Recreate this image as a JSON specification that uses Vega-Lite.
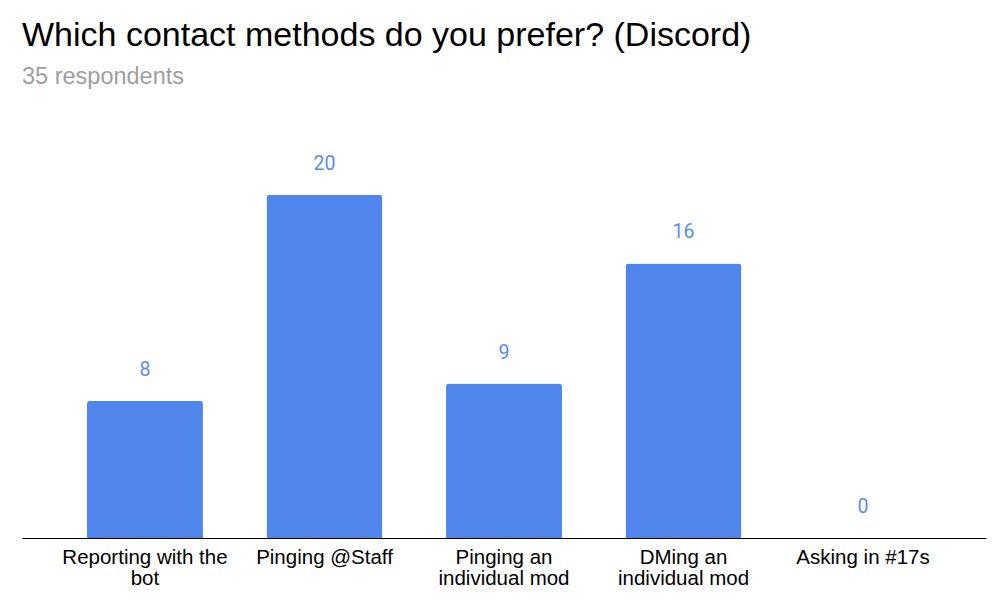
{
  "$schema": "https://vega.github.io/schema/vega-lite/v6.json",
  "autosize": "none",
  "padding": {"left": 22, "top": 109, "right": 14, "bottom": 64},
  "width": 964,
  "height": 429,
  "title": {
    "text": "Which contact methods do you prefer? (Discord)",
    "subtitle": "35 respondents",
    "anchor": "start",
    "frame": "group",
    "font": "Liberation Sans",
    "fontSize": 34,
    "fontWeight": "normal",
    "color": "#000000",
    "subtitleFont": "Liberation Sans",
    "subtitleFontSize": 23.5,
    "subtitleColor": "#9e9e9e",
    "subtitlePadding": 12,
    "offset": 21
  },
  "data": {
    "values": [
      {"method": "Reporting with the bot", "count": 8},
      {"method": "Pinging @Staff", "count": 20},
      {"method": "Pinging an individual mod", "count": 9},
      {"method": "DMing an individual mod", "count": 16},
      {"method": "Asking in #17s", "count": 0}
    ]
  },
  "encoding": {
    "x": {
      "field": "method",
      "type": "nominal",
      "sort": null,
      "scale": {"paddingInner": 0.354, "paddingOuter": 0.362},
      "axis": {
        "title": null,
        "labelAngle": 0,
        "ticks": false,
        "domainColor": "#000000",
        "domainWidth": 1,
        "labelFont": "Liberation Sans",
        "labelFontSize": 20.5,
        "labelColor": "#000000",
        "labelLineHeight": 21,
        "labelPadding": 9,
        "labelExpr": "datum.label == 'Reporting with the bot' ? ['Reporting with the', 'bot'] : datum.label == 'Pinging an individual mod' ? ['Pinging an', 'individual mod'] : datum.label == 'DMing an individual mod' ? ['DMing an', 'individual mod'] : datum.label"
      }
    },
    "y": {
      "field": "count",
      "type": "quantitative",
      "scale": {"domain": [0, 25], "nice": false},
      "axis": null
    }
  },
  "layer": [
    {
      "mark": {"type": "bar", "color": "#5085ec", "cornerRadiusTopLeft": 3, "cornerRadiusTopRight": 3}
    },
    {
      "mark": {"type": "text", "color": "#5b8cee", "font": "Roboto", "fontSize": 19.5, "baseline": "middle", "dy": -31},
      "encoding": {"text": {"field": "count", "type": "quantitative"}}
    }
  ],
  "config": {"view": {"stroke": null}}
}
